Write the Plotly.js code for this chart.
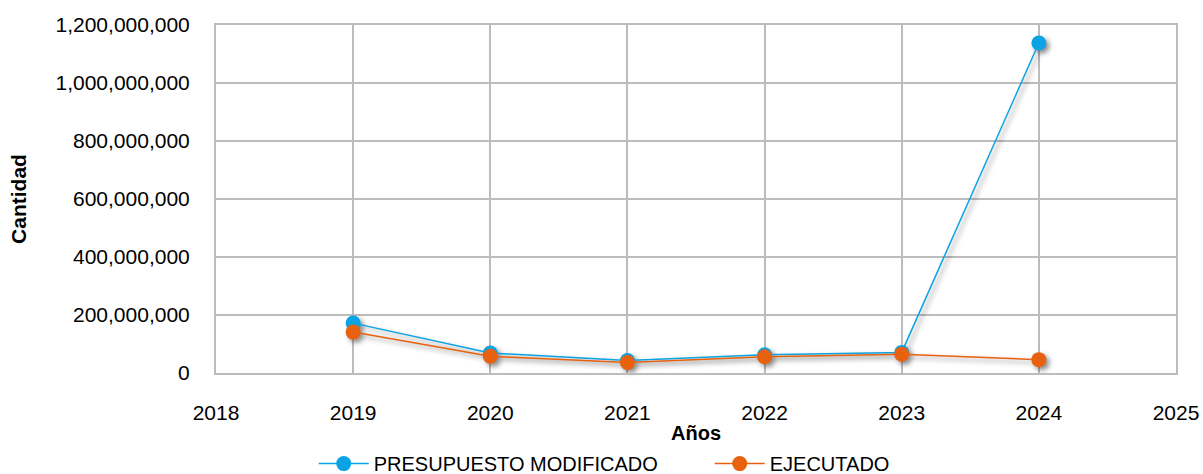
<!DOCTYPE html>
<html>
<head>
<meta charset="utf-8">
<script src="https://cdn.plot.ly/plotly-3.0.1.min.js"></script>
<style>
html,body{margin:0;padding:0;background:#fff;}
#chart{width:1203px;height:474px;}
.scatterlayer{filter:drop-shadow(3px 3px 2.5px rgba(0,0,0,0.45));}
</style>
</head>
<body>
<div id="chart"></div>
<script>
const years = [2019, 2020, 2021, 2022, 2023, 2024];
const presupuestoModificado = [172000000, 69000000, 43000000, 63000000, 71000000, 1138000000];
const ejecutado = [141000000, 58000000, 36000000, 56000000, 65000000, 46000000];
const seriesNames = ['PRESUPUESTO MODIFICADO', 'EJECUTADO'];

const font = 'Liberation Sans, Arial, sans-serif';

const traces = [
  {
    x: years, y: presupuestoModificado, name: seriesNames[0],
    type: 'scatter', mode: 'lines+markers',
    line: {color: '#0BA3E3', width: 1.5},
    marker: {color: '#0BA3E3', size: 15},
    cliponaxis: false
  },
  {
    x: years, y: ejecutado, name: seriesNames[1],
    type: 'scatter', mode: 'lines+markers',
    line: {color: '#E8610E', width: 1.5},
    marker: {color: '#E8610E', size: 15},
    cliponaxis: false
  }
];

const layout = {
  width: 1203, height: 474,
  margin: {l: 216, r: 27, t: 25, b: 101},
  paper_bgcolor: '#fff', plot_bgcolor: '#fff',
  font: {family: font, size: 21, color: '#000'},
  showlegend: true,
  legend: {
    orientation: 'h', xref: 'container', yref: 'container',
    x: 0.2608, xanchor: 'left', y: 0.022, yanchor: 'middle',
    font: {family: font, size: 20, color: '#000'},
    itemwidth: 50, entrywidth: 331, entrywidthmode: 'pixels', tracegroupgap: 0
  },
  xaxis: {
    range: [2018, 2025], dtick: 1, tick0: 2018,
    showgrid: true, gridcolor: '#bcbcbc', gridwidth: 2,
    zeroline: false,
    showline: true, linecolor: '#bcbcbc', linewidth: 2, mirror: true,
    ticks: 'outside', ticklen: 20, tickcolor: 'rgba(0,0,0,0)',
    tickfont: {family: font, size: 21, color: '#000'},
    title: {text: '<b>Años</b>', font: {family: font, size: 20, color: '#000'}, standoff: 6},
    automargin: false, fixedrange: true
  },
  yaxis: {
    range: [0, 1200000000], dtick: 200000000, tick0: 0,
    tickformat: ',d',
    showgrid: true, gridcolor: '#bcbcbc', gridwidth: 2,
    zeroline: false,
    showline: true, linecolor: '#bcbcbc', linewidth: 2, mirror: true,
    ticks: 'outside', ticklen: 20, tickcolor: 'rgba(0,0,0,0)',
    tickfont: {family: font, size: 21, color: '#000'},
    title: {text: '<b>Cantidad</b>', font: {family: font, size: 21, color: '#000'}, standoff: 23},
    automargin: false, fixedrange: true
  }
};

Plotly.newPlot('chart', traces, layout, {displayModeBar: false, staticPlot: true});
</script>
</body>
</html>
